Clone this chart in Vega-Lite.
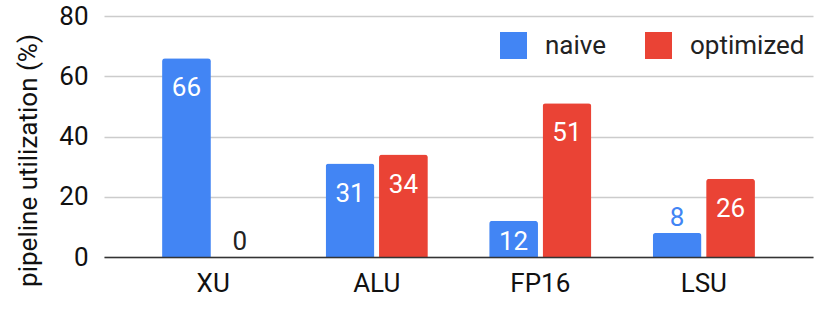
{
  "$schema": "https://vega.github.io/schema/vega-lite/v6.json",
  "width": 709,
  "height": 241,
  "autosize": {"type": "none"},
  "padding": {"left": 104, "top": 16, "right": 17, "bottom": 52},
  "background": "white",
  "config": {
    "font": "Roboto",
    "view": {"stroke": null},
    "axis": {"labelFont": "Roboto", "titleFont": "Roboto"},
    "legend": {"labelFont": "Roboto"}
  },
  "data": {
    "values": [
      {"category": "XU", "series": "naive", "value": 66},
      {"category": "XU", "series": "optimized", "value": 0},
      {"category": "ALU", "series": "naive", "value": 31},
      {"category": "ALU", "series": "optimized", "value": 34},
      {"category": "FP16", "series": "naive", "value": 12},
      {"category": "FP16", "series": "optimized", "value": 51},
      {"category": "LSU", "series": "naive", "value": 8},
      {"category": "LSU", "series": "optimized", "value": 26}
    ]
  },
  "encoding": {
    "x": {
      "field": "category",
      "type": "nominal",
      "sort": null,
      "scale": {"paddingInner": 0.375, "paddingOuter": 0.355},
      "axis": {
        "title": null,
        "labelAngle": 0,
        "labelFontSize": 26,
        "labelColor": "#111",
        "labelPadding": 13,
        "ticks": false,
        "domainColor": "#333",
        "domainWidth": 1.5,
        "zindex": 1
      }
    },
    "xOffset": {
      "field": "series",
      "type": "nominal",
      "sort": ["naive", "optimized"],
      "scale": {"paddingInner": 0.086}
    },
    "y": {
      "field": "value",
      "type": "quantitative",
      "scale": {"domain": [0, 80]},
      "axis": {
        "title": "pipeline utilization (%)",
        "titleFontSize": 26,
        "titleFontWeight": "normal",
        "titleColor": "#111",
        "titleX": -76,
        "titleY": 144,
        "titleAngle": 270,
        "titleAlign": "center",
        "titleBaseline": "middle",
        "values": [0, 20, 40, 60, 80],
        "labelFontSize": 26,
        "labelColor": "#111",
        "labelPadding": 16,
        "ticks": false,
        "domain": false,
        "gridColor": "#cccccc",
        "gridWidth": 1.5
      }
    }
  },
  "layer": [
    {
      "mark": {"type": "bar", "cornerRadiusTopLeft": 3, "cornerRadiusTopRight": 3},
      "encoding": {
        "color": {
          "field": "series",
          "type": "nominal",
          "sort": ["naive", "optimized"],
          "scale": {"domain": ["naive", "optimized"], "range": ["#4285F4", "#EA4335"]},
          "legend": {
            "title": null,
            "orient": "none",
            "legendX": 396,
            "legendY": 16,
            "direction": "horizontal",
            "symbolType": "square",
            "symbolSize": 729,
            "symbolStrokeWidth": 0,
            "symbolOpacity": 1,
            "labelFontSize": 26,
            "labelColor": "#222",
            "labelOffset": 18,
            "columnPadding": 38,
            "padding": 0
          }
        }
      }
    },
    {
      "transform": [{"filter": "datum.value >= 20"}],
      "mark": {"type": "text", "fontSize": 26, "color": "white", "baseline": "alphabetic", "dy": 38},
      "encoding": {"text": {"field": "value", "type": "quantitative"}}
    },
    {
      "transform": [{"filter": "datum.value >= 10 && datum.value < 20"}],
      "mark": {"type": "text", "fontSize": 26, "color": "white", "baseline": "alphabetic", "dy": 29},
      "encoding": {"text": {"field": "value", "type": "quantitative"}}
    },
    {
      "transform": [{"filter": "datum.value < 10"}],
      "mark": {"type": "text", "fontSize": 26, "baseline": "alphabetic", "dy": -7},
      "encoding": {
        "text": {"field": "value", "type": "quantitative"},
        "color": {
          "condition": {"test": "datum.value == 0", "value": "#222"},
          "field": "series",
          "type": "nominal",
          "legend": null
        }
      }
    }
  ]
}
